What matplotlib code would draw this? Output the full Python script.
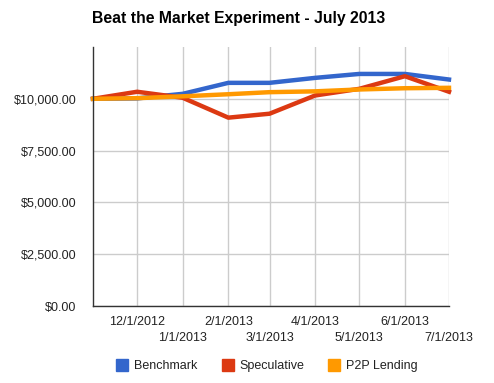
import matplotlib
matplotlib.use("Agg")
import matplotlib.pyplot as plt
import matplotlib.dates as mdates
from matplotlib.lines import Line2D
import datetime as dt

plt.rcParams['font.family'] = ['Liberation Sans', 'DejaVu Sans']

dates = ["2012-11-01", "2012-12-01", "2013-01-01", "2013-02-01", "2013-03-01",
         "2013-04-01", "2013-05-01", "2013-06-01", "2013-07-01"]
benchmark = [10000, 10020, 10240, 10770, 10770, 11010, 11200, 11200, 10930]
speculative = [10000, 10340, 10050, 9090, 9280, 10160, 10480, 11090, 10340]
p2p = [10000, 10030, 10120, 10220, 10320, 10360, 10450, 10510, 10530]

series_names = ["Benchmark", "Speculative", "P2P Lending"]
colors = ["#3366cc", "#dc3912", "#ff9900"]

row1_ticks = ["2012-12-01", "2013-02-01", "2013-04-01", "2013-06-01"]
row1_labels = ["12/1/2012", "2/1/2013", "4/1/2013", "6/1/2013"]
row2_ticks = ["2013-01-01", "2013-03-01", "2013-05-01", "2013-07-01"]
row2_labels = ["1/1/2013", "3/1/2013", "5/1/2013", "7/1/2013"]

y_ticks = [0, 2500, 5000, 7500, 10000]
y_labels = ["$0.00", "$2,500.00", "$5,000.00", "$7,500.00", "$10,000.00"]

def d(s):
    return dt.datetime.strptime(s, "%Y-%m-%d")

x = [d(s) for s in dates]

fig = plt.figure(figsize=(4.94, 3.83), dpi=100)
ax = fig.add_axes([93/494, 1-306/383, (449-93)/494, (306-47)/383])

for vals, c, n in zip([benchmark, speculative, p2p], colors, series_names):
    ax.plot(x, vals, color=c, lw=3.2, label=n, solid_joinstyle='round', zorder=3, clip_on=False)

ax.set_xlim(x[0], x[-1])
ax.set_ylim(0, 12500)

ax.set_xticks([mdates.date2num(d(s)) for s in row1_ticks])
ax.set_xticklabels(row1_labels)
ax.set_xticks([mdates.date2num(d(s)) for s in row2_ticks], minor=True)
ax.set_xticklabels(row2_labels, minor=True)
ax.tick_params(axis='x', which='major', length=0, pad=7, labelsize=9, labelcolor='#222222')
ax.tick_params(axis='x', which='minor', length=0, pad=19, labelsize=9, labelcolor='#222222')

ax.set_yticks(y_ticks)
ax.set_yticklabels(y_labels)
ax.tick_params(axis='y', length=0, pad=12, labelsize=9, labelcolor='#222222')

ax.grid(True, which='both', axis='x', color='#cccccc', lw=1)
ax.grid(True, which='major', axis='y', color='#cccccc', lw=1)
ax.set_axisbelow(True)

for s in ['top', 'right']:
    ax.spines[s].set_visible(False)
for s in ['left', 'bottom']:
    ax.spines[s].set_color('#333333')
    ax.spines[s].set_linewidth(1)
    ax.spines[s].set_zorder(4)

fig.text(92/494, 1-18/383, "Beat the Market Experiment - July 2013", fontsize=11.3,
         fontweight='bold', ha='left', va='center', color='black')

handles = [Line2D([], [], marker='s', linestyle='none', markersize=9,
                  markerfacecolor=c, markeredgecolor=c) for c in colors]
fig.legend(handles, series_names, loc='center', bbox_to_anchor=(267/494, 1-366/383),
           ncol=3, frameon=False, fontsize=9, handletextpad=0.45, columnspacing=1.9,
           handlelength=1.0, labelcolor='#222222')

fig.savefig("out.png", dpi=100)
